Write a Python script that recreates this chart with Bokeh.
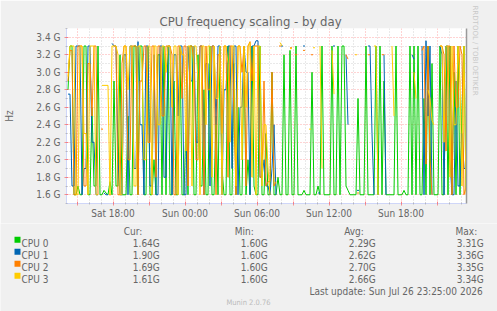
import numpy as np
from bokeh.plotting import figure
from bokeh.layouts import column
from bokeh.models import Range1d, FixedTicker, Label, LinearAxis, Title
from bokeh.embed import file_html
from bokeh.resources import INLINE

nan = float("nan")

# ---------------- data ----------------
series_names = ["CPU 0", "CPU 1", "CPU 2", "CPU 3"]
series_colors = ["#00CC00", "#0066B3", "#FF8000", "#FFCC00"]
cur_vals = ["1.64G", "1.90G", "1.69G", "1.61G"]
min_vals = ["1.60G", "1.60G", "1.60G", "1.60G"]
avg_vals = ["2.29G", "2.62G", "2.70G", "2.66G"]
max_vals = ["3.31G", "3.36G", "3.35G", "3.34G"]
last_update = "Last update: Sun Jul 26 23:25:00 2026"

# sampling: Sat 14:10 onwards, every 10 minutes (hours since Sat 00:00)
start_hour = 14 + 10 / 60
step_hours = 10 / 60

x_start = 14 + 7.5 / 60     # Sat 14:07:30
x_end = 47 + 27.5 / 60      # Sun 23:27:30

xtick_values = [15, 18, 21, 24, 27, 30, 33, 36, 39, 42, 45]
xtick_labels = ["", "Sat 18:00", "", "Sun 00:00", "", "Sun 06:00", "", "Sun 12:00", "", "Sun 18:00", ""]
xminor_values = [16, 17, 19, 20, 22, 23, 25, 26, 28, 29, 31, 32, 34, 35, 37, 38, 40, 41, 43, 44, 46, 47]

ytick_values = [1.6, 1.8, 2.0, 2.2, 2.4, 2.6, 2.8, 3.0, 3.2, 3.4]
ytick_labels = ["1.6 G", "1.8 G", "2.0 G", "2.2 G", "2.4 G", "2.6 G", "2.8 G", "3.0 G", "3.2 G", "3.4 G"]
yminor_values = [1.5, 1.7, 1.9, 2.1, 2.3, 2.5, 2.7, 2.9, 3.1, 3.3, 3.5]

# CPU frequencies in GHz (NaN = unknown), one value per 10 minutes
cpu0 = [2.8, 3.3, 3.3, 1.6, 1.6, 1.7, 1.6, 1.6, 3.3, 3.3, 1.6, 1.6, 2.6, 1.7, 1.7, 3.3,
        1.6, 1.6, 1.65, 1.62, 1.6, 1.75, 1.6,
        2.9, 1.7, 1.7, 3.2, 1.6, 1.6, 1.6, 2.5, 1.6, 1.6, 3.3, 3.3, 1.6, 3.3, 3.3, 1.6, 1.6,
        3.3, 1.6, 1.6, 2.0, 1.6, 3.2, 3.2, 1.6, 3.3, 1.6,
        3.3, 1.6, 1.6, 2.9, 1.6, 1.6, 3.3, 1.6, 1.6, 2.4,
        1.6, 3.3, 3.3, 1.6, 1.6, 3.2, 1.7, 1.7, 2.8, 1.6,
        1.6, 3.3, 1.6, 1.6, 2.5, 1.6, 3.3, 1.9, 1.6, 1.6,
        3.3, 1.6, 1.6, 3.1, 1.6, 2.6, 1.6, 1.6, 3.3, 1.6,
        2.0, 1.6, 3.3, 1.7, 1.6,
        1.6, 3.3, 1.6, 1.6, 2.3, 1.6, 1.6, 3.0, 1.6, 1.6, 1.8, 1.6, 1.6,
        3.2, 1.6, 1.6, 3.25, 1.6, 1.6, 3.3, 1.6, 1.6, 1.6,
        1.65, 1.6, 1.6, 1.6, 3.0, 1.6, 1.6, 1.7, 1.6, 3.3,
        1.6, 1.6, 1.6, 1.6, 3.3, 1.6, 1.6, 3.3, 1.6, 3.3,
        3.3, 1.7, 1.65, 1.6, 1.6, 1.6, 1.6, 2.7, 1.6, 1.6,
        1.6, 3.3, 1.6, 1.6, 1.6, 1.6, 3.3, 1.6, 3.3, 1.6,
        2.9, 1.6, 1.6, 1.6, 1.6, 1.6, 3.3, 1.6, 1.6, 1.6,
        1.65, 1.6, 1.6, 3.3, 1.6, 3.3, 1.6, 3.3, 1.6, 1.6,
        2.7, 1.6, 3.3, 1.6, 3.1, 1.6, 1.6, 1.6, 3.3, 1.6,
        1.6, 3.3, 1.6, 3.3, 1.6, 3.0, 1.6, 3.3, 1.6, 2.6,
        3.3, 1.64]

cpu1 = [2.75, 2.75, 1.7, 1.7, 3.3, 3.3, 3.3, 1.6, 1.9, 1.9, 3.3, 3.3, 2.2, 2.2, 1.6, 1.6,
        nan, nan, 1.62, 1.6, 1.6, nan, 3.33,
        3.3, 3.3, 2.0, 1.6, 1.6, 3.2, 3.2, 1.6, 3.3, 3.3, 1.9, 1.9, 3.35, 2.4, 2.4, 1.6, 3.3,
        3.3, 1.7, 1.7, 3.2, 1.6, 1.6, 3.3, 3.3, 1.8, 1.8,
        3.3, 3.3, 1.6, 3.2, 3.2, 2.5, 3.3, 3.3, 1.6, 1.6,
        3.3, 2.9, 2.9, 3.3, 2.2, 2.2, 3.3, 3.3, 1.6, 3.1,
        3.1, 1.7, 3.3, 3.3, 2.4, 3.3, 3.3, 1.6, 2.8, 2.8,
        3.3, 3.3, 1.9, 3.3, 3.3, 1.6, 2.6, 2.6, 3.3, 3.0,
        3.0, 1.6, 3.3, 3.3, 3.36,
        3.36, 1.8, 1.8, 2.0, 1.7, 1.7, 1.6, 1.9, 2.4, 1.6, nan, nan, 3.3,
        nan, nan, nan, nan, nan, nan, nan, nan, nan, nan,
        3.3, nan, nan, nan, nan, nan, nan, 1.62, 1.62, nan,
        nan, nan, nan, nan, nan, 3.3, nan, nan, nan, nan,
        nan, 3.2, 2.4, nan, nan, nan, nan, 1.65, nan, nan,
        nan, nan, 3.3, 3.3, 2.3, 1.6, nan, nan, nan, nan,
        3.2, 1.6, nan, nan, nan, nan, nan, nan, nan, nan,
        nan, nan, nan, nan, 3.2, 3.15, nan, nan, nan, 3.3,
        1.6, 3.36, 2.5, 3.3, 1.6, nan, nan, nan, 3.3, 3.2,
        1.6, 3.3, 3.3, 2.0, 1.6, 1.6, 2.9, 1.7, 1.7, 2.3,
        1.9, 1.9]

cpu2 = [2.9, 3.25, 3.25, 1.6, 1.6, 3.3, 3.3, 3.3, 1.7, 1.7, 3.1, 3.1, 2.5, 3.3, 3.3, 1.6,
        nan, 2.35, nan, nan, nan, 1.6, nan,
        3.3, 3.3, 1.6, 1.6, 3.1, 3.3, 3.3, 2.0, 2.0, 3.3, 3.3, 3.3, 1.6, 2.9, 2.9, 3.3, 3.3,
        2.2, 2.2, 3.3, 3.3, 1.8, 3.3, 3.3, 2.5, 2.5, 3.3,
        3.3, 3.3, 3.2, 1.6, 1.6, 3.3, 3.3, 2.7, 3.3, 3.3,
        1.7, 3.3, 3.3, 3.1, 2.0, 2.0, 3.3, 3.3, 1.6, 3.3,
        2.8, 2.8, 3.3, 3.3, 1.6, 3.2, 3.2, 2.3, 3.3, 3.3,
        1.8, 3.3, 3.3, 2.5, 1.6, 3.3, 3.3, 3.0, 3.3, 1.7,
        3.3, 3.35, 2.9, 3.3, 3.3,
        3.3, 1.8, 1.8, 2.9, 1.7, 1.75, 1.75, 3.0, 1.7, 1.75, nan, 3.3, nan,
        nan, nan, nan, 3.28, 3.28, nan, 3.2, nan, nan, nan,
        3.25, nan, nan, nan, 3.2, nan, nan, nan, nan, nan,
        nan, nan, nan, nan, nan, nan, nan, nan, nan, nan,
        nan, 3.2, 3.15, nan, nan, nan, nan, 1.62, nan, nan,
        nan, nan, 3.2, 3.2, nan, nan, nan, nan, nan, 3.2,
        3.2, nan, nan, nan, nan, nan, nan, nan, nan, nan,
        nan, nan, nan, nan, nan, nan, nan, nan, nan, 3.25,
        3.3, 1.95, 3.3, 2.0, 1.6, nan, nan, nan, 3.3, 3.3,
        3.2, 2.1, 3.3, 3.3, 1.6, 3.3, 2.6, 2.6, 3.3, 3.2,
        1.6, 1.69]

cpu3 = [2.95, 3.3, 3.3, 3.3, 1.6, 1.6, 3.3, 3.3, 2.3, 2.3, 1.6, 3.3, 3.3, 3.3, 1.6, 1.6,
        nan, 2.85, 2.85, 2.85, 2.85, 1.6, 3.3,
        3.3, 3.3, 3.2, 1.6, 1.6, 3.3, 3.3, 2.8, 3.3, 3.3, 1.7, 1.7, 3.3, 3.3, 3.1, 2.0, 2.0,
        3.3, 3.3, 1.6, 3.3, 3.3, 2.4, 2.4, 3.3, 3.3, 3.0,
        3.3, 3.3, 2.6, 3.3, 3.3, 1.6, 3.3, 3.2, 3.2, 2.1,
        3.3, 3.3, 1.7, 3.3, 3.3, 2.9, 1.6, 3.3, 3.3, 2.4,
        3.3, 3.3, 1.8, 3.3, 2.7, 2.7, 3.3, 1.6, 3.3, 3.3,
        3.1, 2.2, 3.3, 3.3, 1.7, 3.3, 3.3, 2.0, 3.3, 2.6,
        3.3, 3.34, 1.8, 3.3, 1.6,
        3.3, 3.3, 1.7, 2.4, 2.4, 1.9, 1.6, nan, nan, nan, nan, 3.34, 3.3,
        nan, nan, nan, 3.27, 3.27, nan, nan, nan, nan, nan,
        nan, nan, nan, 2.35, nan, 3.28, nan, nan, 3.3, 1.9,
        nan, nan, nan, nan, 3.25, 2.75, nan, nan, nan, nan,
        nan, nan, nan, nan, nan, nan, 3.2, nan, nan, nan,
        nan, nan, nan, nan, nan, 3.3, 3.3, 1.6, nan, nan,
        nan, nan, nan, nan, 3.3, 2.5, nan, nan, nan, nan,
        nan, nan, nan, nan, nan, 3.0, 2.7, nan, nan, nan,
        nan, nan, 2.8, 2.7, 2.45, 2.4, nan, nan, 3.3, 3.3,
        2.2, 3.3, 3.3, 1.8, 3.3, 2.4, 2.4, 3.3, 2.9, 1.7,
        3.3, 1.61]

series_values = [cpu0, cpu1, cpu2, cpu3]

# ---------------- styling constants ----------------
FONT = "DejaVu Sans Condensed, DejaVu Sans"
FONT_COLOR = "#666666"
AXIS_COLOR = "#CFD6F8"
MGRID = "#FF0000"
GRID = "#808080"
BACK = "#F0F0F0"

W = 497
TOP_H = 223          # chart figure height
LEG_H = 311 - TOP_H  # legend figure height
FL, FR, FT, FB = 66, 466, 28, 203

p = figure(width=W, height=TOP_H, output_backend="svg", toolbar_location=None,
           x_range=Range1d(x_start, x_end), y_range=Range1d(1.5, 3.5),
           min_border_left=FL, min_border_right=W - FR,
           min_border_top=FT, min_border_bottom=TOP_H - FB)
p.frame_align = False
p.border_fill_color = BACK
p.background_fill_color = "#FFFFFF"
p.outline_line_color = None

p.title.text = "CPU frequency scaling - by day"
p.title.align = "left"
p.title.offset = 93
p.title.standoff = 0
p.title.text_font = FONT
p.title.text_font_size = "13px"
p.title.text_font_style = "normal"
p.title.text_color = FONT_COLOR

# x axis
xax = p.xaxis[0]
xax.ticker = FixedTicker(ticks=xtick_values, minor_ticks=xminor_values)
xax.major_label_overrides = dict(zip(xtick_values, xtick_labels))
# y axis
yax = p.yaxis[0]
yax.ticker = FixedTicker(ticks=ytick_values, minor_ticks=yminor_values)
yax.major_label_overrides = dict(zip(ytick_values, ytick_labels))
yax.axis_label = "Hz"
yax.axis_label_text_font = FONT
yax.axis_label_text_font_size = "10px"
yax.axis_label_text_font_style = "normal"
yax.axis_label_text_color = FONT_COLOR
yax.axis_label_standoff = 18

for ax in (xax, yax):
    ax.axis_line_color = AXIS_COLOR
    ax.axis_line_width = 1
    ax.major_tick_line_color = MGRID
    ax.major_tick_line_alpha = 0.4
    ax.major_tick_in = 2
    ax.major_tick_out = 2
    ax.minor_tick_line_color = GRID
    ax.minor_tick_line_alpha = 0.4
    ax.minor_tick_in = 1
    ax.minor_tick_out = 1
    ax.major_label_text_font = FONT
    ax.major_label_text_font_size = "10px"
    ax.major_label_text_color = FONT_COLOR
xax.major_label_standoff = 2
yax.major_label_standoff = 4

p.xgrid.ticker = FixedTicker(ticks=xtick_values, minor_ticks=xminor_values)
p.ygrid.ticker = FixedTicker(ticks=ytick_values, minor_ticks=yminor_values)
for g in (p.xgrid[0], p.ygrid[0]):
    g.grid_line_color = MGRID
    g.grid_line_alpha = 0.35
    g.grid_line_dash = "1 2"
    g.minor_grid_line_color = GRID
    g.minor_grid_line_alpha = 0.35
    g.minor_grid_line_dash = "1 2"

# right edge line
rax = LinearAxis(ticker=FixedTicker(ticks=[]), axis_line_color="#9A9A9A",
                 axis_line_width=1.5, major_tick_line_color=None,
                 minor_tick_line_color=None, major_label_text_font_size="0px")
p.add_layout(rax, "right")
p.add_layout(Title(text="RRDTOOL / TOBI OETIKER", align="left", offset=-23,
                   standoff=8, text_font="DejaVu Sans", text_font_size="7px",
                   text_font_style="normal", text_color="#C8C8C8"), "right")

# ---------------- data lines ----------------
for vals, col in zip(series_values, series_colors):
    v = np.asarray(vals, dtype=float)
    t = start_hour + step_hours * (np.arange(len(v)) + 0.5)
    p.line(t, v, line_color=col, line_width=1)
    # isolated samples (unknown on both sides) shown as short dashes
    known = ~np.isnan(v)
    prev_unknown = np.concatenate([[True], ~known[:-1]])
    next_unknown = np.concatenate([~known[1:], [True]])
    iso = known & prev_unknown & next_unknown
    p.segment(x0=t[iso] - step_hours / 2, x1=t[iso] + step_hours / 2,
              y0=v[iso], y1=v[iso], line_color=col, line_width=1)

# ---------------- legend block (pixel coordinates) ----------------
q = figure(width=W, height=LEG_H, output_backend="svg", toolbar_location=None,
           x_range=Range1d(0, W), y_range=Range1d(311, TOP_H),
           x_axis_location=None, y_axis_location=None,
           min_border=0, min_border_left=0, min_border_right=0,
           min_border_top=0, min_border_bottom=0)
q.frame_align = False
q.border_fill_color = BACK
q.background_fill_color = BACK
q.outline_line_color = None
q.xgrid.visible = False
q.ygrid.visible = False


def add_text(cx, cy, text, size="10px", color=FONT_COLOR, align="left",
             baseline="alphabetic", font=FONT):
    q.add_layout(Label(x=cx, y=cy, text=text, text_font=font, text_font_size=size,
                       text_color=color, text_align=align, text_baseline=baseline))


header_y = 230.7
add_text(141.7, header_y, "Cur:", align="right")
add_text(253.3, header_y, "Min:", align="right")
add_text(363.3, header_y, "Avg:", align="right")
add_text(476.7, header_y, "Max:", align="right")

row_y = [243.3, 255.3, 267.3, 279.3]
q.rect(x=[17] * 4, y=[r - 4 for r in row_y], width=6, height=6,
       fill_color=series_colors, line_color=None)
for k in range(4):
    by = row_y[k]
    add_text(21, by, series_names[k])
    add_text(159.3, by, cur_vals[k], align="right")
    add_text(267.3, by, min_vals[k], align="right")
    add_text(375.3, by, avg_vals[k], align="right")
    add_text(483.3, by, max_vals[k], align="right")

add_text(482.3, 291, last_update, align="right")
add_text(248, 301.5, "Munin 2.0.76", size="7.5px", color="#BBBBBB", align="center")

layout = column(p, q, spacing=0)
open("out.html", "w").write(file_html(layout, INLINE))
